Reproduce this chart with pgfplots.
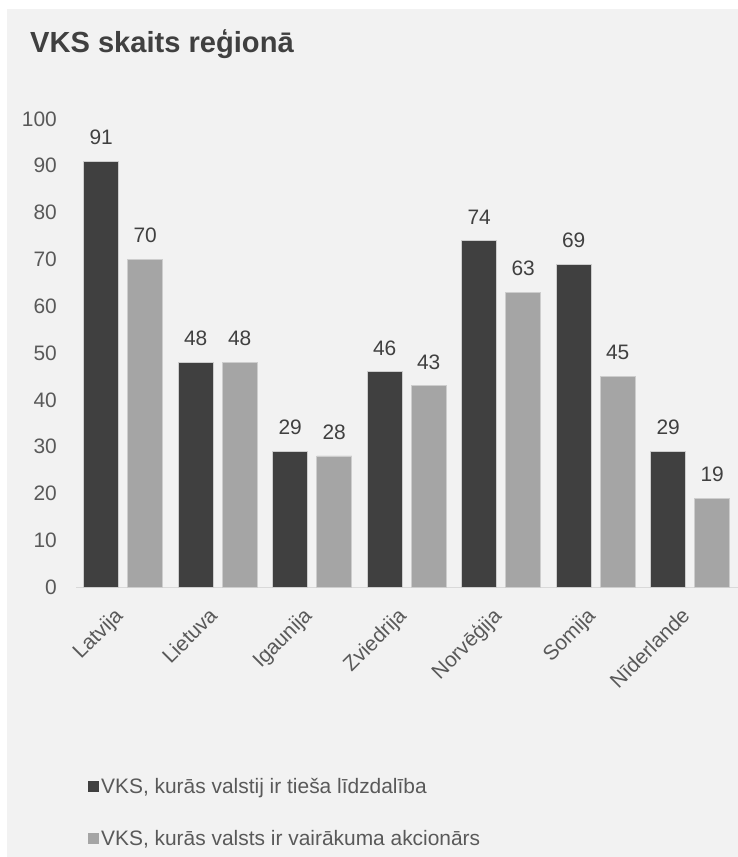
\documentclass[border=0pt]{standalone}
\usepackage{pgfplots}
\pgfplotsset{compat=1.18}
\usepackage{fontspec}
\setmainfont{Liberation Sans}
\definecolor{panel}{HTML}{F2F2F2}
\definecolor{darkbar}{HTML}{404040}
\definecolor{lightbar}{HTML}{A5A5A5}
\definecolor{ticktext}{HTML}{595959}
\definecolor{axisline}{HTML}{D9D9D9}
\definecolor{titletext}{HTML}{404040}
\definecolor{barline}{HTML}{CDCDCD}
\begin{document}
\begin{tikzpicture}
\path[use as bounding box] (0bp,0bp) rectangle (738bp,857bp);
\fill[white] (0bp,0bp) rectangle (738bp,857bp);
\fill[panel] (7bp,0bp) rectangle (738bp,848bp);
\node[anchor=base west, inner sep=0pt, text=titletext, font=\fontsize{29.2}{35}\selectfont\bfseries] at (30bp,804bp) {VKS skaits reģionā};
\begin{axis}[
  at={(76bp,270bp)}, anchor=south west,
  scale only axis, width=661.5bp, height=468bp,
  ybar=9bp, bar width=35bp,
  xmin=-0.5, xmax=6.5, ymin=0, ymax=100,
  xtick=data,
  xticklabels={Latvija,Lietuva,Igaunija,Zviedrija,Norvēģija,Somija,Nīderlande},
  ytick={0,10,...,100},
  /pgf/number format/assume math mode=true,
  major tick length=0pt,
  separate axis lines,
  axis x line*=bottom, axis y line*=left,
  x axis line style={draw=axisline, line width=1bp},
  y axis line style={draw=none},
  tick label style={font=\fontsize{21}{25}\selectfont, text=ticktext},
  yticklabel style={anchor=east, inner sep=0pt, xshift=-19bp},
  xticklabel style={xshift=-10bp, yshift=-19bp, rotate=45, anchor=north east, inner sep=0pt},
  nodes near coords,
  nodes near coords style={font=\fontsize{21}{25}\selectfont, text=darkbar, anchor=south, inner sep=0pt, yshift=16bp},
  clip=false,
  legend style={at={(0.0136,-0.40)}, anchor=north west, draw=none, fill=none,
    font=\fontsize{21}{25}\selectfont, text=ticktext, row sep=31bp,
    /tikz/every even column/.append style={column sep=0pt}},
  legend cell align=left,
  legend image code/.code={\fill[#1, draw=none] (0bp,-5.5bp) rectangle (11bp,5.5bp);},
]
\addplot[fill=darkbar, draw=barline, line width=0.6bp] coordinates {(0,91) (1,48) (2,29) (3,46) (4,74) (5,69) (6,29)};
\addplot[fill=lightbar, draw=barline, line width=0.6bp] coordinates {(0,70) (1,48) (2,28) (3,43) (4,63) (5,45) (6,19)};
\legend{{VKS, kurās valstij ir tieša līdzdalība}, {VKS, kurās valsts ir vairākuma akcionārs}}
\end{axis}
\end{tikzpicture}
\end{document}
